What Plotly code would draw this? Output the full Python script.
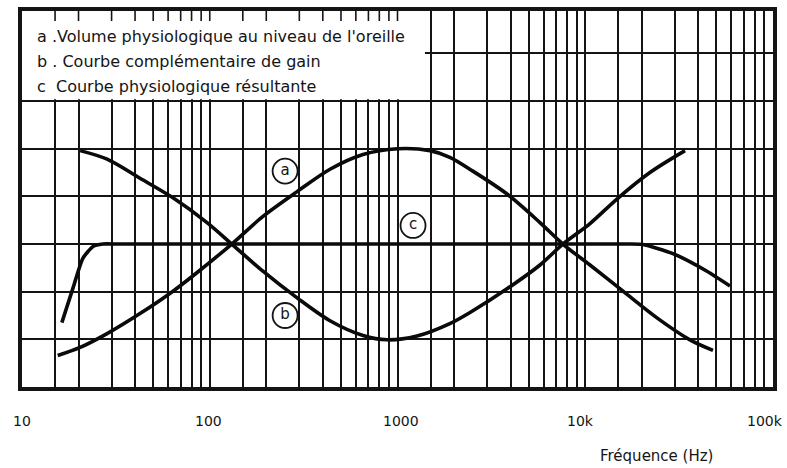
import math
import plotly.graph_objects as go

# Frequency axis (Hz) and response levels (one grid division per unit)
freq_a = [15.5, 20.4, 28.4, 42.5, 63.7, 88.7, 131, 192, 292, 437, 655, 1000,
          1490, 1900, 2520, 3830, 5740, 7600, 10600, 15900, 24100, 36100, 47900]
level_a = [0.66, 0.83, 1.12, 1.54, 2.01, 2.45, 3.0, 3.58, 4.10, 4.57, 4.88, 5.0,
           4.96, 4.82, 4.53, 4.05, 3.45, 3.0, 2.56, 2.01, 1.45, 0.99, 0.77]

freq_b = [20.4, 28.4, 42.5, 63.7, 96.7, 131, 192, 292, 437, 655, 880, 1270,
          1900, 2520, 3830, 5740, 7600, 10600, 14800, 22100, 34000]
level_b = [4.96, 4.78, 4.38, 3.97, 3.45, 3.0, 2.43, 1.87, 1.39, 1.08, 0.99, 1.07,
           1.33, 1.60, 2.06, 2.56, 3.0, 3.43, 3.95, 4.50, 4.96]

freq_c = [16.3, 18.7, 21.1, 23.9, 27.0, 32.0, 100, 1000, 10000, 17000, 20300,
          29300, 44500, 59000]
level_c = [1.35, 2.08, 2.70, 2.95, 3.0, 3.0, 3.0, 3.0, 3.0, 3.0, 2.99,
           2.80, 2.43, 2.12]

# Circled curve markers
marker_letters = ["a", "b", "c"]
marker_freq = [252, 252, 1210]
marker_level = [4.53, 1.50, 3.39]

legend_lines = [
    "a .Volume physiologique au niveau de l'oreille",
    "b . Courbe complémentaire de gain",
    "c  Courbe physiologique résultante",
]

decade_values = [10, 100, 1000, 10000, 100000]
decade_labels = ["10", "100", "1000", "10k", "100k"]
decade_shift = [0, -1, 3, -5, -8]

axis_title = "Fréquence (Hz)"

# log-paper rulings: 1, 1.5, 2, 3 ... 9 in every decade
steps = [1, 1.5, 2, 3, 4, 5, 6, 7, 8, 9]
grid_x = [10 ** d * s for d in range(1, 5) for s in steps] + [100000]
grid_y = [1, 2, 3, 4, 5, 6, 7]

Y_TOP = 7.89
BOX_RIGHT = 1400      # legend panel extends to here (Hz)
BOX_BOTTOM = 6.04

INK = "#141414"
FONT = "DejaVu Sans"

fig = go.Figure()

# white legend panel over the grid
fig.add_trace(go.Scatter(
    x=[10, BOX_RIGHT, BOX_RIGHT, 10, 10],
    y=[BOX_BOTTOM, BOX_BOTTOM, Y_TOP, Y_TOP, BOX_BOTTOM],
    fill="toself", fillcolor="white", mode="lines",
    line=dict(width=0), hoverinfo="skip", showlegend=False))

# short rulings along the top edge of the panel
tx, ty = [], []
for g in grid_x:
    if 10 < g < BOX_RIGHT:
        tx += [g, g, None]
        ty += [Y_TOP, Y_TOP - 0.21, None]
fig.add_trace(go.Scatter(x=tx, y=ty, mode="lines",
                         line=dict(color=INK, width=1.6),
                         hoverinfo="skip", showlegend=False))

for fx, fy, sm in [(freq_a, level_a, 0.9), (freq_b, level_b, 0.9),
                   (freq_c, level_c, 0.6)]:
    fig.add_trace(go.Scatter(
        x=fx, y=fy, mode="lines", showlegend=False,
        line=dict(color="#0a0a0a", width=3.6, shape="spline", smoothing=sm)))

fig.add_trace(go.Scatter(
    x=marker_freq, y=marker_level, mode="markers+text",
    text=marker_letters, textposition="middle center",
    textfont=dict(family=FONT, size=15, color=INK),
    marker=dict(symbol="circle", size=25, color="white",
                line=dict(color=INK, width=1.8)),
    showlegend=False))

annotations = []
for i, line in enumerate(legend_lines):
    annotations.append(dict(
        text=line, xref="paper", yref="paper", x=0.0173,
        y=[0.9316, 0.8658, 0.800][i], xanchor="left", yanchor="middle",
        showarrow=False, font=dict(family=FONT, size=16, color=INK)))

for v, lab, sh in zip(decade_values, decade_labels, decade_shift):
    annotations.append(dict(
        text=lab, xref="x", yref="paper", x=math.log10(v), y=0,
        xanchor="center", yanchor="middle", yshift=-34, xshift=sh,
        showarrow=False, font=dict(family=FONT, size=14, color=INK)))

annotations.append(dict(
    text=axis_title, xref="paper", yref="paper", x=0.8455, y=0,
    xanchor="center", yanchor="middle", yshift=-69, showarrow=False,
    font=dict(family=FONT, size=15, color=INK)))

fig.update_layout(
    width=787, height=468,
    margin=dict(l=22, r=14, t=7, b=81),
    paper_bgcolor="white", plot_bgcolor="white",
    annotations=annotations,
    xaxis=dict(type="log", range=[1, 5], tickvals=grid_x, showticklabels=False,
               ticks="", showgrid=True, gridcolor=INK, gridwidth=1.6,
               zeroline=False, showline=True, linecolor=INK, linewidth=3.5,
               mirror=True, fixedrange=True),
    yaxis=dict(range=[0, Y_TOP], tickvals=grid_y, showticklabels=False,
               ticks="", showgrid=True, gridcolor=INK, gridwidth=1.6,
               zeroline=False, showline=True, linecolor=INK, linewidth=3.5,
               mirror=True, fixedrange=True),
)

fig.write_html("out.html")
